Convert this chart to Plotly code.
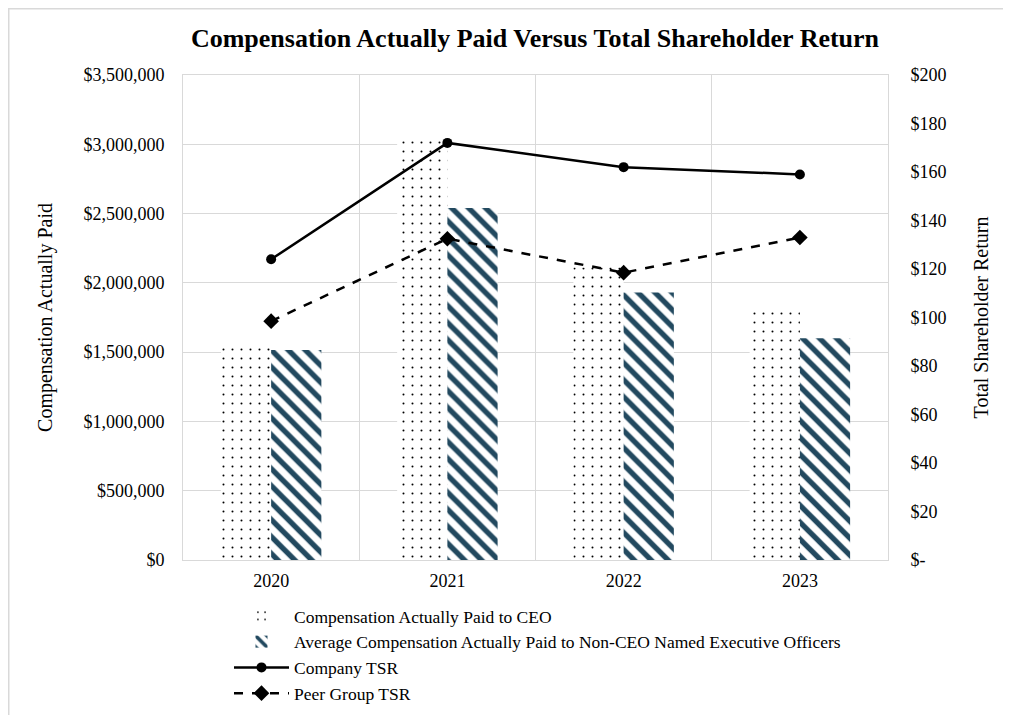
import plotly.graph_objects as go

years = ["2020", "2021", "2022", "2023"]
ceo_cap = [1560000, 3030000, 2110000, 1790000]
neo_cap = [1515000, 2540000, 1930000, 1600000]
company_tsr = [124, 172, 162, 159]
peer_tsr = [98.5, 132.5, 118.5, 133]

left_ticks = [0, 500000, 1000000, 1500000, 2000000, 2500000, 3000000, 3500000]
right_ticks = [0, 20, 40, 60, 80, 100, 120, 140, 160, 180, 200]
right_labels = ["$-"] + ["$%d" % v for v in right_ticks[1:]]

FONT = "Liberation Serif, Times New Roman, serif"
GRID = "#d9d9d9"

W, H = 1003, 707
L, T, PW, PH = 175, 67, 705, 485

fig = go.Figure()
fig.add_trace(go.Bar(
    x=years, y=ceo_cap, name="Compensation Actually Paid to CEO",
    marker=dict(color="white", line=dict(width=0),
                pattern=dict(shape=".", fgcolor="black", bgcolor="white",
                             size=9, solidity=0.04, fillmode="replace")),
    yaxis="y",
))
fig.add_trace(go.Bar(
    x=years, y=neo_cap,
    name="Average Compensation Actually Paid to Non-CEO Named Executive Officers",
    marker=dict(color="white", line=dict(width=0),
                pattern=dict(shape="\\", fgcolor="#22495f", bgcolor="white",
                             size=12, solidity=0.45, fillmode="replace")),
    yaxis="y",
))
fig.add_trace(go.Scatter(
    x=years, y=company_tsr, name="Company TSR", mode="lines+markers",
    line=dict(color="black", width=2.5),
    marker=dict(symbol="circle", size=10, color="black"),
    yaxis="y2",
))
fig.add_trace(go.Scatter(
    x=years, y=peer_tsr, name="Peer Group TSR", mode="lines+markers",
    line=dict(color="black", width=2.5, dash="dash"),
    marker=dict(symbol="diamond", size=12, color="black"),
    yaxis="y2",
))

fig.update_layout(
    width=W, height=H,
    paper_bgcolor="white", plot_bgcolor="white",
    margin=dict(l=L, r=W - L - PW, t=T, b=H - T - PH, autoexpand=False),
    font=dict(family=FONT, size=18, color="black"),
    title=dict(text="<b>Compensation Actually Paid Versus Total Shareholder Return</b>",
               x=(535 - 8) / W, xanchor="center", y=1 - (38 - 8) / H, yanchor="middle",
               font=dict(family=FONT, size=26, color="black")),
    barmode="group", bargap=0.43, bargroupgap=0.0,
    xaxis=dict(type="category", tickson="boundaries", showgrid=True, gridcolor=GRID,
               gridwidth=1, showline=True, linecolor=GRID, linewidth=1, mirror=True,
               ticks="", tickfont=dict(size=18), ticklabelstandoff=4),
    yaxis=dict(range=[0, 3500000], tickvals=left_ticks, tickformat="$,.0f",
               showgrid=True, gridcolor=GRID, gridwidth=1, zeroline=False,
               showline=True, linecolor=GRID, linewidth=1, ticks="",
               ticklabelstandoff=14, tickfont=dict(size=18),
               title=dict(text="Compensation Actually Paid", font=dict(size=20), standoff=25)),
    yaxis2=dict(range=[0, 200], tickvals=right_ticks, ticktext=right_labels,
                overlaying="y", side="right", showgrid=False, zeroline=False,
                showline=True, linecolor=GRID, linewidth=1, ticks="",
                ticklabelstandoff=18, tickfont=dict(size=18),
                title=dict(text="Total Shareholder Return", font=dict(size=20), standoff=28)),
    legend=dict(orientation="v", x=(229 - 8 - L) / PW, xanchor="left",
                y=-(598 - 8 - T - PH) / PH, yanchor="top",
                font=dict(family=FONT, size=17.5), itemwidth=55, tracegroupgap=0,
                bgcolor="rgba(0,0,0,0)", traceorder="normal"),
    showlegend=True,
)

# outer chart-area border (top and left edges visible in reference)
def fx(p):
    return (p - L) / PW

def fy(p):
    return (T + PH - p) / PH

fig.add_shape(type="line", xref="paper", yref="paper",
              x0=fx(0), x1=fx(W + 5), y0=fy(0), y1=fy(0),
              line=dict(color="#d9d9d9", width=3))
fig.add_shape(type="line", xref="paper", yref="paper",
              x0=fx(0), x1=fx(0), y0=fy(0), y1=fy(H + 5),
              line=dict(color="#d9d9d9", width=3))

fig.write_html("out.html")
